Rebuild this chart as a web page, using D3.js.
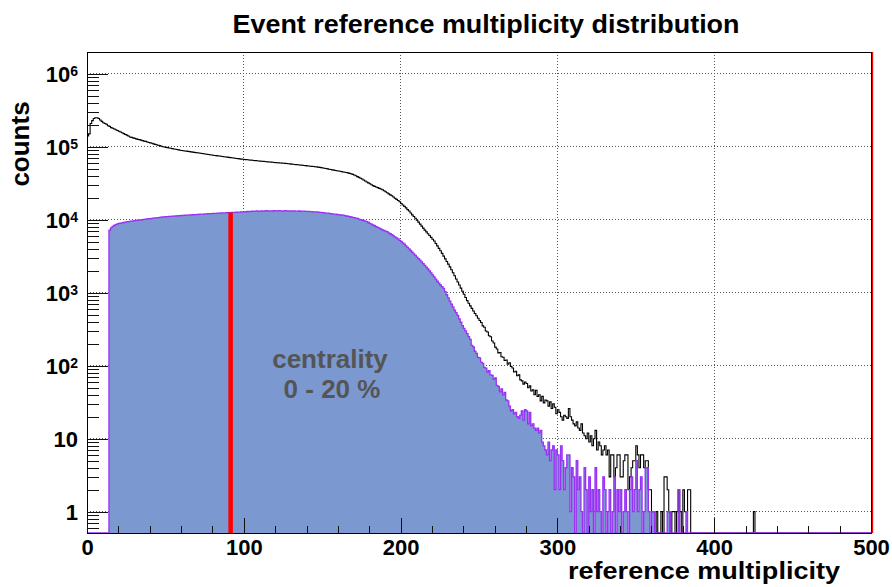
<!DOCTYPE html>
<html><head><meta charset="utf-8">
<script src="https://cdn.jsdelivr.net/npm/d3@7"></script>
<style>
body{margin:0;background:#fff}
svg{display:block}
text{font-family:"Liberation Sans",Arial,Helvetica,sans-serif;font-weight:bold}
</style>
</head><body>
<svg id="c" width="892" height="587"></svg>
<script>
// ---------------- data ----------------
const binStart = 0, binWidth = 1;
// all events (black outline), one value per refMult bin starting at 0
const allEventsCounts = [
141000,151000,209000,229000,245000,251000,251000,245000,234000,224000,
214000,209000,204000,195000,191000,184000,180000,176000,172000,168000,
164000,160000,156000,152000,148000,145000,141000,137000,135000,133000,
131000,129000,127000,126000,124000,122000,120000,119000,117000,115000,
113500,112000,110000,108500,107000,105500,104000,102000,100700,99500,
98600,97700,96600,95700,94800,93800,92900,92000,91000,90200,
89500,88700,88100,87500,86900,86100,85500,84900,84100,83600,
83000,82400,81700,81100,80500,79800,79300,78700,78200,77500,
76900,76400,75900,75400,74900,74400,73900,73400,72900,72400,
71900,71400,70900,70400,69900,69400,69000,68500,68100,67700,
67300,67000,66600,66300,65900,65600,65200,64900,64600,64200,
63900,63600,63300,63000,62700,62400,62100,61800,61500,61200,
60900,60700,60500,60300,60000,59700,59400,59100,58800,58500,
58100,57800,57500,57200,56900,56600,56300,56000,55700,55400,
55000,54700,54400,54100,53800,53500,53200,52800,52400,52000,
51500,51000,50500,50000,49400,49000,48500,48100,47600,47200,
46800,46300,45800,45400,44900,44500,44000,43400,42800,42000,
41200,40200,39200,38200,37200,36300,35200,34100,33100,32100,
31300,30300,29500,28800,28200,27700,27000,26500,25900,25100,
24300,23500,22700,22000,21400,20600,19800,19100,18400,17700,
16800,16000,15300,14600,13800,13200,12400,11700,11100,10500,
9900,9310,8750,8200,7710,7240,6840,6460,6100,5750,
5430,5130,4740,4400,4070,3770,3470,3180,2920,2690,
2470,2270,2070,1880,1710,1550,1410,1280,1160,1050,
955,861,782,719,662,611,562,521,484,449,
417,392,352,338,300,290,258,250,218,205,
180,170,150,152,133,131,118,120,105,110,
98,93,82,84,73,75,64,62,56,60,
57,50,53,45,47,40,46,38,40,33,
38,31,34,33,28,32,26,30,27,22,
25,23,20,18,21,20,19,26,20,18,
16,15,17,14,13,16,12,11,10,12,
9,11,8,10,13,7,9,8,6,7,
8,6,7,3,6,6,3,4,6,6,
3,3,5,6,6,2,3,4,5,5,
8,6,4,6,6,4,5,5,2,2,
1,1,0,1,0,0,1,0,3,3,
2,1,0,1,1,0,1,2,1,0,
2,1,1,2,2,0,0,0,0,0,
0,0,0,0,0,0,0,0,0,0,
0,0,0,0,0,0,0,0,0,0,
0,0,0,0,0,0,0,0,0,0,
0,0,0,0,0,1
];
// selected events (filled), one value per refMult bin starting at 0
const centralCounts = [
0,0,0,0,0,0,0,0,0,0,
0,0,0,0,7240,7760,8130,8410,8610,8810,
8950,9040,9120,9200,9290,9380,9460,9550,9620,9680,
9750,9820,9890,9950,10020,10100,10170,10230,10290,10360,
10420,10490,10550,10620,10680,10750,10820,10890,10960,11000,
11050,11090,11130,11180,11220,11260,11300,11350,11390,11440,
11480,11520,11560,11600,11640,11680,11710,11750,11790,11830,
11870,11910,11950,11980,12020,12060,12100,12140,12170,12210,
12250,12280,12310,12340,12380,12410,12440,12470,12500,12530,
12570,12600,12630,12660,12690,12720,12750,12780,12810,12850,
12880,12920,13050,12980,13100,13180,13050,13150,13250,13100,
13200,13300,13180,13250,13350,13200,13280,13320,13200,13350,
13300,13250,13350,13280,13200,13300,13350,13250,13200,13300,
13250,13200,13300,13150,13200,13250,13100,13200,13150,13050,
13100,13050,12950,13000,12900,12850,12900,12800,12700,12650,
12550,12500,12400,12350,12250,12150,12100,12000,11950,11850,
11800,11700,11650,11600,11450,11300,11200,11050,10950,10800,
10700,10550,10450,10250,10100,9950,9800,9600,9450,9200,
8950,8750,8500,8300,8100,7900,7700,7500,7300,7150,
7000,6900,6650,6450,6250,6050,5850,5650,5480,5250,
5050,4850,4650,4400,4200,4000,3800,3600,3420,3250,
3090,2950,2800,2650,2520,2380,2250,2120,2000,1880,
1760,1650,1540,1440,1360,1280,1210,1150,1040,940,
850,770,700,640,580,535,490,440,395,355,
325,300,275,251,230,190,182,158,148,130,
128,112,108,95,93,82,86,75,74,65,
68,54,52,44,48,40,43,34,33,28,
24,25,22,23,20,19,21,24,18,25,
24,16,23,15,16,14,13,14,12,13,
9,8,7,6,9,5,7,8,2,7,
6,2,8,5,2,4,6,6,1,4,
3,0,5,2,3,1,0,4,2,0,
3,1,2,0,4,1,2,1,0,3,
2,0,1,2,0,1,3,0,2,1,
2,0,1,2,1,0,2,3,1,2,
5,1,2,3,0,1,4,4,1,0,
1,1,0,0,0,0,0,0,0,0,
1,1,0,0,0,0,0,2,0,0,
0,0,1
];
const centralityCut = 91.6;      // refMult cut for 0-20 %
const centralityUpper = 500;
const xTickValues = [0,100,200,300,400,500];
const xTickLabels = ["0","100","200","300","400","500"];
const yTickValues = [1,10,100,1e3,1e4,1e5,1e6];
const yTickLabels = [["1",""],["10",""],["10","2"],["10","3"],["10","4"],["10","5"],["10","6"]];
const titleText = "Event reference multiplicity distribution";
const xLabel = "reference multiplicity";
const yLabel = "counts";
const annotation = ["centrality","0 - 20 %"];

// ---------------- chart ----------------
const svg = d3.select("#c");
const L = 87, R = 871, T = 52, B = 533;
const xMax = 500;
const x = d3.scaleLinear().domain([0, xMax]).range([L, R]);
const y = d3.scaleLog().domain([0.51, 2.0e6]).range([B, T]).clamp(true);

svg.append("rect").attr("width",892).attr("height",587).attr("fill","#fff");
svg.append("defs").append("clipPath").attr("id","clip")
  .append("rect").attr("x",L).attr("y",T).attr("width",R-L).attr("height",B-T);

// grid
const grid = svg.append("g").attr("stroke","#555").attr("stroke-width",1)
  .attr("stroke-dasharray","1,2").attr("shape-rendering","crispEdges");
xTickValues.filter(v=>v>0).forEach(v=>{
  grid.append("line").attr("x1",x(v)).attr("x2",x(v)).attr("y1",T).attr("y2",B);
});
yTickValues.forEach(v=>{
  grid.append("line").attr("x1",L).attr("x2",R).attr("y1",y(v)).attr("y2",y(v));
});

// histogram helpers
function toPoints(counts){
  const pts = [];
  const n = Math.round((xMax - binStart)/binWidth);
  for(let i=0;i<n;i++){
    pts.push({x: binStart + i*binWidth, v: i < counts.length ? counts[i] : 0});
  }
  pts.push({x: xMax, v: 0});
  return pts;
}
const yv = d => d.v > 0 ? y(d.v) : B;
const area = d3.area().x(d=>x(d.x)).y0(B).y1(yv).curve(d3.curveStepAfter);
const line = d3.line().x(d=>x(d.x)).y(yv).curve(d3.curveStepAfter);

const plot = svg.append("g").attr("clip-path","url(#clip)");
const cPts = toPoints(centralCounts);
const aPts = toPoints(allEventsCounts);
plot.append("path").attr("d", area(cPts)).attr("fill","#7b99d0").attr("stroke","none");
plot.append("path").attr("d", line(aPts)).attr("fill","none").attr("stroke","#000").attr("stroke-width",1.1);
plot.append("path").attr("d", line(cPts)).attr("fill","none").attr("stroke","#9a2ff5").attr("stroke-width",1.3);

// centrality cut lines
const cutBin = Math.floor((centralityCut - binStart)/binWidth);
svg.append("line").attr("x1",x(centralityCut)).attr("x2",x(centralityCut))
  .attr("y1",B).attr("y2",y(centralCounts[cutBin]))
  .attr("stroke","#ff0000").attr("stroke-width",4.5);

// frame
svg.append("rect").attr("x",L).attr("y",T).attr("width",R-L).attr("height",B-T)
  .attr("fill","none").attr("stroke","#000").attr("stroke-width",1).attr("shape-rendering","crispEdges");
svg.append("line").attr("x1",x(centralityUpper)+1.5).attr("x2",x(centralityUpper)+1.5)
  .attr("y1",T).attr("y2",B).attr("stroke","#ff0000").attr("stroke-width",1.3);

// y axis (ticks inward)
const gy = svg.append("g").attr("transform",`translate(${L},0)`)
  .call(d3.axisLeft(y).tickValues(yTickValues).tickSizeInner(-21).tickSizeOuter(0).tickFormat(""));
const minorY = [];
for(let k=-1;k<=6;k++) for(let m=2;m<=9;m++){ const v=m*Math.pow(10,k); if(v>0.51 && v<2.0e6) minorY.push(v); }
const gy2 = svg.append("g").attr("transform",`translate(${L},0)`)
  .call(d3.axisLeft(y).tickValues(minorY).tickSizeInner(-12).tickSizeOuter(0).tickFormat(""));
[gy,gy2].forEach(g=>{ g.select(".domain").remove(); g.selectAll("line").attr("stroke","#111").attr("shape-rendering","crispEdges"); });
gy.selectAll(".tick").each(function(d){
  const lab = yTickLabels[yTickValues.indexOf(d)];
  const t = d3.select(this).append("text").attr("x",-9).attr("dy","0.35em")
    .attr("text-anchor","end").attr("fill","#000").style("font-size","22px");
  t.append("tspan").text(lab[0]);
  if(lab[1]) t.append("tspan").attr("dy","-6px").style("font-size","14px").text(lab[1]);
});

// x axis (ticks inward)
const gx = svg.append("g").attr("transform",`translate(0,${B})`)
  .call(d3.axisBottom(x).tickValues(xTickValues).tickSizeInner(-15).tickSizeOuter(0).tickPadding(6)
    .tickFormat((d,i)=>xTickLabels[i]));
const minorX = d3.range(20, xMax, 20).filter(v=>v%100!==0);
const gx2 = svg.append("g").attr("transform",`translate(0,${B})`)
  .call(d3.axisBottom(x).tickValues(minorX).tickSizeInner(-7).tickSizeOuter(0).tickFormat(""));
[gx,gx2].forEach(g=>{ g.select(".domain").remove(); g.selectAll("line").attr("stroke","#111").attr("shape-rendering","crispEdges"); });
gx.selectAll("text").attr("fill","#000").style("font-size","22px").style("font-family",null);
gy.selectAll("text").style("font-family",null);

// titles
svg.append("text").attr("x",486).attr("y",33).attr("text-anchor","middle")
  .style("font-size","25px").attr("textLength",507).attr("lengthAdjust","spacingAndGlyphs").text(titleText);
svg.append("text").attr("x",840).attr("y",579).attr("text-anchor","end")
  .style("font-size","23px").attr("textLength",272).attr("lengthAdjust","spacingAndGlyphs").text(xLabel);
svg.append("text").attr("transform","translate(28.5,144) rotate(-90)").attr("text-anchor","middle")
  .style("font-size","26px").text(yLabel);

// annotation
svg.append("text").attr("x",330).attr("y",368).attr("text-anchor","middle").attr("fill","#555")
  .style("font-size","26px").text(annotation[0]);
svg.append("text").attr("x",332).attr("y",398).attr("text-anchor","middle").attr("fill","#555")
  .style("font-size","26px").text(annotation[1]);
</script>
</body></html>
